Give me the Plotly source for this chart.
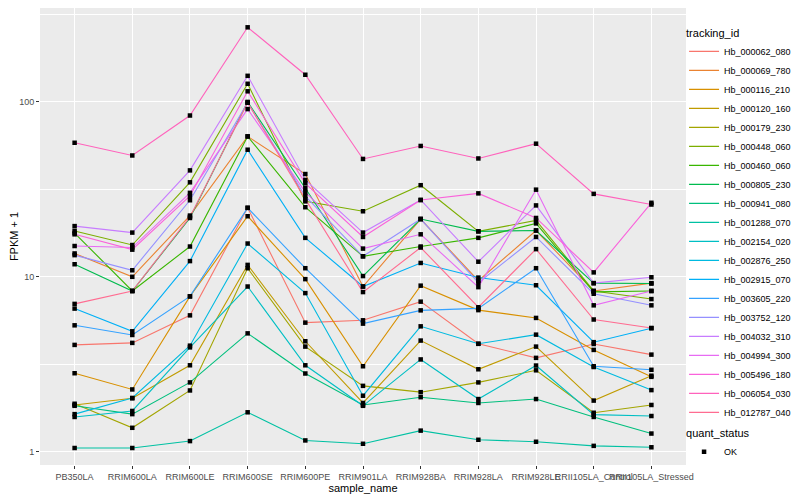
import plotly.graph_objects as go

samples = ["PB350LA", "RRIM600LA", "RRIM600LE", "RRIM600SE", "RRIM600PE", "RRIM901LA",
           "RRIM928BA", "RRIM928LA", "RRIM928LE", "RRII105LA_Control", "RRII105LA_Stressed"]

hb_000062_080 = [4.08, 4.19, 6.02, 24.8, 5.47, 5.64, 7.21, 4.14, 3.44, 4.13, 3.59]
hb_000069_780 = [13.6, 10.0, 22.4, 63.5, 38.7, 8.8, 21.4, 9.5, 18.4, 8.3, 9.2]
hb_000116_210 = [2.81, 2.27, 7.73, 22.2, 9.7, 3.08, 8.9, 6.45, 5.82, 3.82, 2.68]
hb_000120_160 = [1.85, 2.02, 3.12, 11.7, 4.28, 1.9, 4.32, 2.96, 3.99, 1.96, 2.72]
hb_000179_230 = [1.88, 1.37, 2.24, 11.2, 3.99, 2.38, 2.19, 2.49, 2.92, 1.67, 1.85]
hb_000448_060 = [18.3, 15.2, 34.7, 127, 27.0, 23.7, 33.4, 18.2, 21.0, 8.3, 7.46]
hb_000460_060 = [17.8, 8.3, 14.9, 63.5, 25.0, 13.1, 14.9, 16.7, 20.2, 8.2, 8.3]
hb_000805_230 = [11.8, 8.3, 21.7, 100, 32.1, 10.1, 21.4, 18.2, 18.4, 9.2, 9.15]
hb_000941_080 = [1.83, 1.64, 2.49, 4.75, 2.8, 1.85, 2.05, 1.9, 2.0, 1.58, 1.27]
hb_001288_070 = [1.05, 1.05, 1.15, 1.68, 1.16, 1.11, 1.32, 1.17, 1.14, 1.08, 1.06]
hb_002154_020 = [1.58, 1.71, 3.95, 8.8, 3.12, 1.83, 3.37, 2.0, 3.11, 1.63, 1.60]
hb_002876_250 = [1.64, 2.03, 4.04, 15.5, 8.07, 2.09, 5.21, 4.14, 4.67, 3.05, 2.25]
hb_002915_070 = [6.58, 4.88, 12.3, 53.3, 16.7, 8.8, 12.0, 9.9, 8.95, 4.23, 5.08]
hb_003605_220 = [5.28, 4.65, 7.73, 24.8, 11.2, 5.4, 6.43, 6.6, 11.2, 3.08, 2.94]
hb_003752_120 = [13.3, 10.9, 27.4, 99, 28.9, 13.1, 21.4, 9.25, 16.9, 8.0, 6.87]
hb_004032_310 = [19.5, 17.9, 40.6, 141, 35.8, 17.9, 27.5, 12.2, 25.6, 9.2, 9.94]
hb_004994_300 = [15.0, 14.7, 30.2, 91, 30.5, 14.5, 17.5, 8.73, 31.5, 6.87, 8.3]
hb_005496_180 = [17.5, 14.3, 29.0, 115, 34.2, 16.9, 27.5, 30.0, 21.7, 10.6, 26.5]
hb_006054_030 = [58.4, 49.4, 83.6, 267, 143, 47.2, 56, 47.5, 57.7, 29.8, 25.9]
hb_012787_040 = [7.0, 8.3, 22.0, 99, 27.8, 8.18, 14.7, 6.7, 14.4, 5.7, 5.1]

tracking_ids = ["Hb_000062_080", "Hb_000069_780", "Hb_000116_210", "Hb_000120_160",
                "Hb_000179_230", "Hb_000448_060", "Hb_000460_060", "Hb_000805_230",
                "Hb_000941_080", "Hb_001288_070", "Hb_002154_020", "Hb_002876_250",
                "Hb_002915_070", "Hb_003605_220", "Hb_003752_120", "Hb_004032_310",
                "Hb_004994_300", "Hb_005496_180", "Hb_006054_030", "Hb_012787_040"]
series = [hb_000062_080, hb_000069_780, hb_000116_210, hb_000120_160, hb_000179_230,
          hb_000448_060, hb_000460_060, hb_000805_230, hb_000941_080, hb_001288_070,
          hb_002154_020, hb_002876_250, hb_002915_070, hb_003605_220, hb_003752_120,
          hb_004032_310, hb_004994_300, hb_005496_180, hb_006054_030, hb_012787_040]
colors = ["#F8766D", "#EA8331", "#D89000", "#C09B00", "#A3A500", "#7CAE00", "#39B600",
          "#00BB4E", "#00BF7D", "#00C1A3", "#00BFC4", "#00BAE0", "#00B0F6", "#35A2FF",
          "#9590FF", "#C77CFF", "#E76BF3", "#FA62DB", "#FF62BC", "#FF6C91"]

y_tick_vals = [1, 10, 100]
y_tick_text = ["1", "10", "100"]
y_minor_vals = [3.1623, 31.623, 316.23]

FONT = "Liberation Sans, Arial, sans-serif"

fig = go.Figure()
for name, vals, col in zip(tracking_ids, series, colors):
    fig.add_trace(go.Scatter(
        x=samples, y=vals, mode="lines", name=name,
        line=dict(color=col, width=1.1), legend="legend"))

all_x = [s for _ in series for s in samples]
all_y = [v for vals in series for v in vals]
fig.add_trace(go.Scatter(
    x=all_x, y=all_y, mode="markers", name="OK", legend="legend2",
    marker=dict(symbol="square", size=4.5, color="black", line=dict(width=0))))

# the page adds an 8px body margin, so the figure is 8px smaller and shifted
fig.update_layout(
    width=792, height=492,
    margin=dict(l=32, r=114, t=0, b=35, autoexpand=False),
    paper_bgcolor="white", plot_bgcolor="#EBEBEB",
    font=dict(family=FONT, size=9, color="#000000"),
    xaxis=dict(
        type="category", range=[-0.6, 10.6], tickangle=0,
        showgrid=True, gridcolor="white", gridwidth=1.1,
        ticks="outside", ticklen=3, tickcolor="#333333", tickwidth=1,
        tickfont=dict(size=9, color="#4D4D4D", family=FONT),
        title=dict(text="sample_name", font=dict(size=11, color="black"), standoff=2),
        zeroline=False, showline=False),
    yaxis=dict(
        type="log", range=[-0.076, 2.537],
        tickmode="array", tickvals=y_tick_vals, ticktext=y_tick_text,
        showgrid=True, gridcolor="white", gridwidth=1.1,
        minor=dict(tickmode="array", tickvals=y_minor_vals, showgrid=True,
                   gridcolor="white", gridwidth=0.55, ticks=""),
        ticks="outside", ticklen=3, tickcolor="#333333", tickwidth=1,
        tickfont=dict(size=9, color="#4D4D4D", family=FONT),
        title=dict(text="FPKM + 1", font=dict(size=11, color="black"), standoff=0),
        zeroline=False, showline=False),
    legend=dict(
        x=0.997, xanchor="left", y=0.968, yanchor="top",
        title=dict(text="tracking_id", font=dict(size=11)),
        font=dict(size=9), tracegroupgap=0, itemwidth=30,
        bgcolor="rgba(0,0,0,0)", borderwidth=0),
    legend2=dict(
        x=0.997, xanchor="left", y=0.092, yanchor="top",
        title=dict(text="quant_status", font=dict(size=11)),
        font=dict(size=9), bgcolor="rgba(0,0,0,0)", borderwidth=0),
)

fig.write_html("out.html")
